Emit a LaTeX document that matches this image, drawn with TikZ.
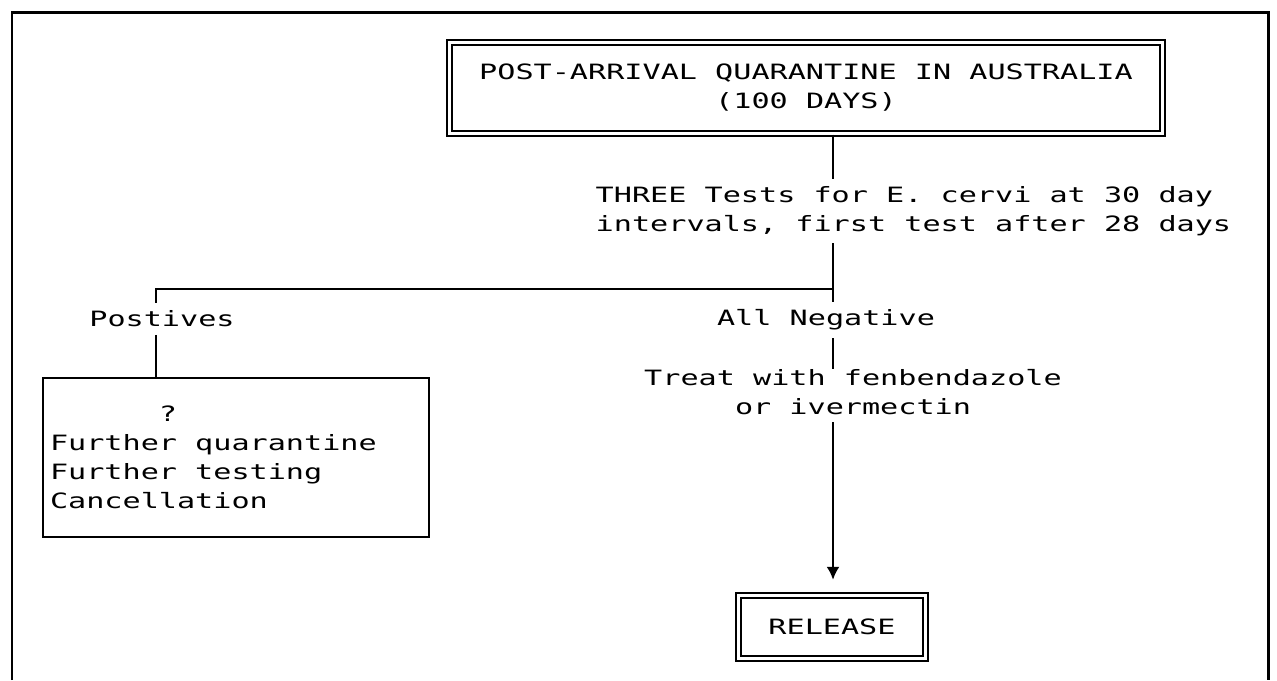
\documentclass[tikz,border=0pt]{standalone}
\usepackage{fontspec}
\newfontfamily\dotfont{DejaVu Sans Mono}[FakeStretch=1.43]
\usetikzlibrary{positioning,arrows.meta}

\begin{document}
\begin{tikzpicture}[
  every node/.style={font=\dotfont\fontsize{6}{8.25}\selectfont, inner sep=2pt},
  plainbox/.style={draw, line width=0.6pt, text width=3.72cm, align=flush left, inner xsep=0.07cm, minimum height=1.59cm},
  dblbox/.style={draw, double, line width=0.55pt, double distance=0.85pt, align=center},
  link/.style={line width=0.6pt}]
  \useasboundingbox (0,0) rectangle (12.77,-6.80);
  \draw [line width=0.85pt] (0.12,-6.80) |- (12.68,-0.12) -- (12.68,-6.80);

  \node [dblbox, minimum width=7.13cm, minimum height=0.915cm] (quar) at (8.06,-0.88) {POST-ARRIVAL QUARANTINE IN AUSTRALIA\\(100 DAYS)};
  \node [align=left, anchor=west] (tests) at (5.88,-2.11) {THREE Tests for E. cervi at 30 day\\intervals, first test after 28 days};
  \coordinate (split) at (8.33,-2.89);
  \coordinate (turn) at (1.56,-2.89);
  \node (pos) at (1.62,-3.19) {Postives};
  \node (neg) at (8.26,-3.20) {All Negative};
  \node [plainbox] (further) at (2.36,-4.575) {\phantom{Furthe}?\\Further quarantine\\Further testing\\Cancellation};
  \node [align=center] (treat) at (8.53,-3.92) {Treat with fenbendazole\\or ivermectin};
  \node [dblbox, minimum width=1.865cm, minimum height=0.625cm] (release) at (8.32,-6.27) {RELEASE};

  \draw [link] (quar.south -| split) -- (tests.north -| split);
  \draw [link] (tests.south -| split) -- (split) -- (turn) -- (turn |- pos.north);
  \draw [link] (turn |- pos.south) -- (turn |- further.north);
  \draw [link] (split) -- (split |- neg.north);
  \draw [link, shorten >=-2pt] (split |- neg.south) -- (split |- treat.north);
  \draw [link, -{Latex[length=1.3mm,width=1.3mm]}, shorten >=0.15cm] (split |- treat.south) -- (split |- release.north);
\end{tikzpicture}
\end{document}
